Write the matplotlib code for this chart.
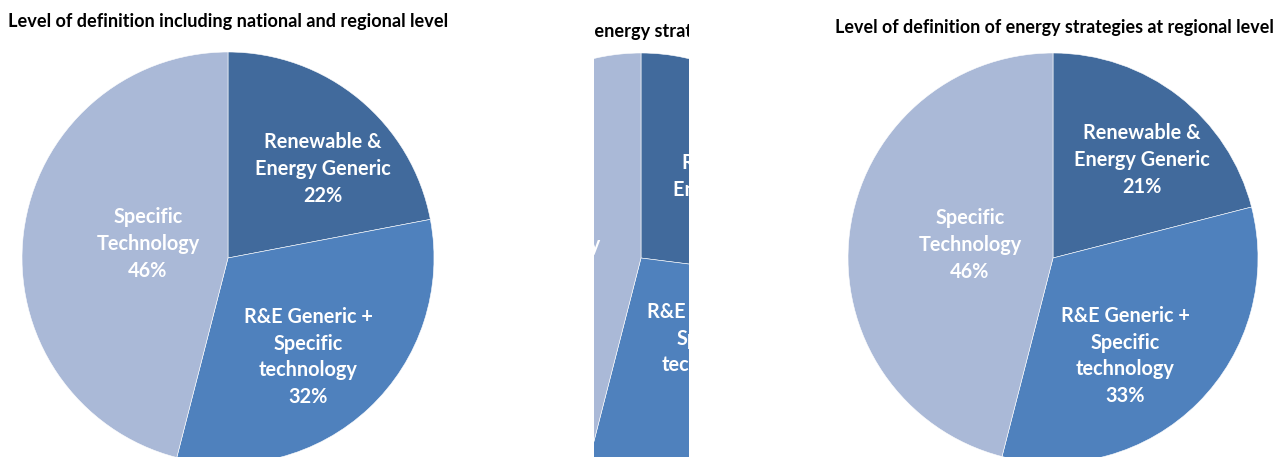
import matplotlib.pyplot as plt

# dados
categorias = ['Renewable &\nEnergy Generic', 'R&E Generic +\nSpecific\ntechnology', 'Specific\nTechnology']
valores_total = [22, 32, 46]
valores_nacional = [27, 27, 46]
valores_regional = [21, 33, 46]
titulos = ['Level of definition including national and regional level',
           'Level of definition of energy strategies at national level',
           'Level of definition of energy strategies at regional level']
cores = ['#416A9C', '#4F81BD', '#AAB9D7']

W, H = 1276, 457
plt.rcParams['font.family'] = ['Lato', 'DejaVu Sans']

fig = plt.figure(figsize=(W / 100, H / 100), dpi=100)


def eixo_pixel(x0, x1):
    # eixo em coordenadas de pixel (y de baixo para cima)
    ax = fig.add_axes([x0 / W, 0, (x1 - x0) / W, 1])
    return ax


def desenha_pizza(ax, x0, x1, valores, centro, raio, offsets, clip=False):
    cx, cy = centro
    fatias, _ = ax.pie(valores, colors=cores, startangle=90, counterclock=False,
                       center=(cx, H - cy), radius=raio, frame=True,
                       wedgeprops=dict(edgecolor='white', linewidth=0.4))
    for f in fatias:
        f.set_clip_on(True)
    for cat, v, (dx, dy) in zip(categorias, valores, offsets):
        ax.text(cx + dx, H - cy - dy, f'{cat}\n{v}%', color='white', fontsize=14.3,
                fontweight='bold', ha='center', va='center', linespacing=1.42,
                clip_on=clip)
    ax.set_xlim(x0, x1)
    ax.set_ylim(0, H)
    ax.axis('off')


ax1 = eixo_pixel(0, 560)
desenha_pizza(ax1, 0, 560, valores_total, (228, 258), 206, [(95, -89), (80, 99), (-80, -14)])
ax1.text(228, H - 22, titulos[0], fontsize=13.1, fontweight='bold', ha='center', va='center')

ax2 = eixo_pixel(594, 689)
desenha_pizza(ax2, 594, 689, valores_nacional, (641, 258), 205,
              [(100, -68), (70, 94), (-92, -13)], clip=True)
# posiciona o titulo para que "energy" comece no corte
r = fig.canvas.get_renderer()
t_a = ax2.text(0, 0, 'Level of definition of energy', fontsize=13.1, fontweight='bold')
t_b = ax2.text(0, 0, 'energy', fontsize=13.1, fontweight='bold')
desloc = t_a.get_window_extent(r).width - t_b.get_window_extent(r).width
t_a.remove(); t_b.remove()
ax2.text(594 - desloc, H - 32, titulos[1], fontsize=13.1, fontweight='bold',
         ha='left', va='center', clip_on=True)

ax3 = eixo_pixel(760, 1276)
desenha_pizza(ax3, 760, 1276, valores_regional, (1053, 258), 205,
              [(89, -98), (72, 98), (-83, -13)])
ax3.text(1054, H - 27, titulos[2], fontsize=12.9, fontweight='bold', ha='center', va='center')

fig.savefig('out.png', dpi=100)
